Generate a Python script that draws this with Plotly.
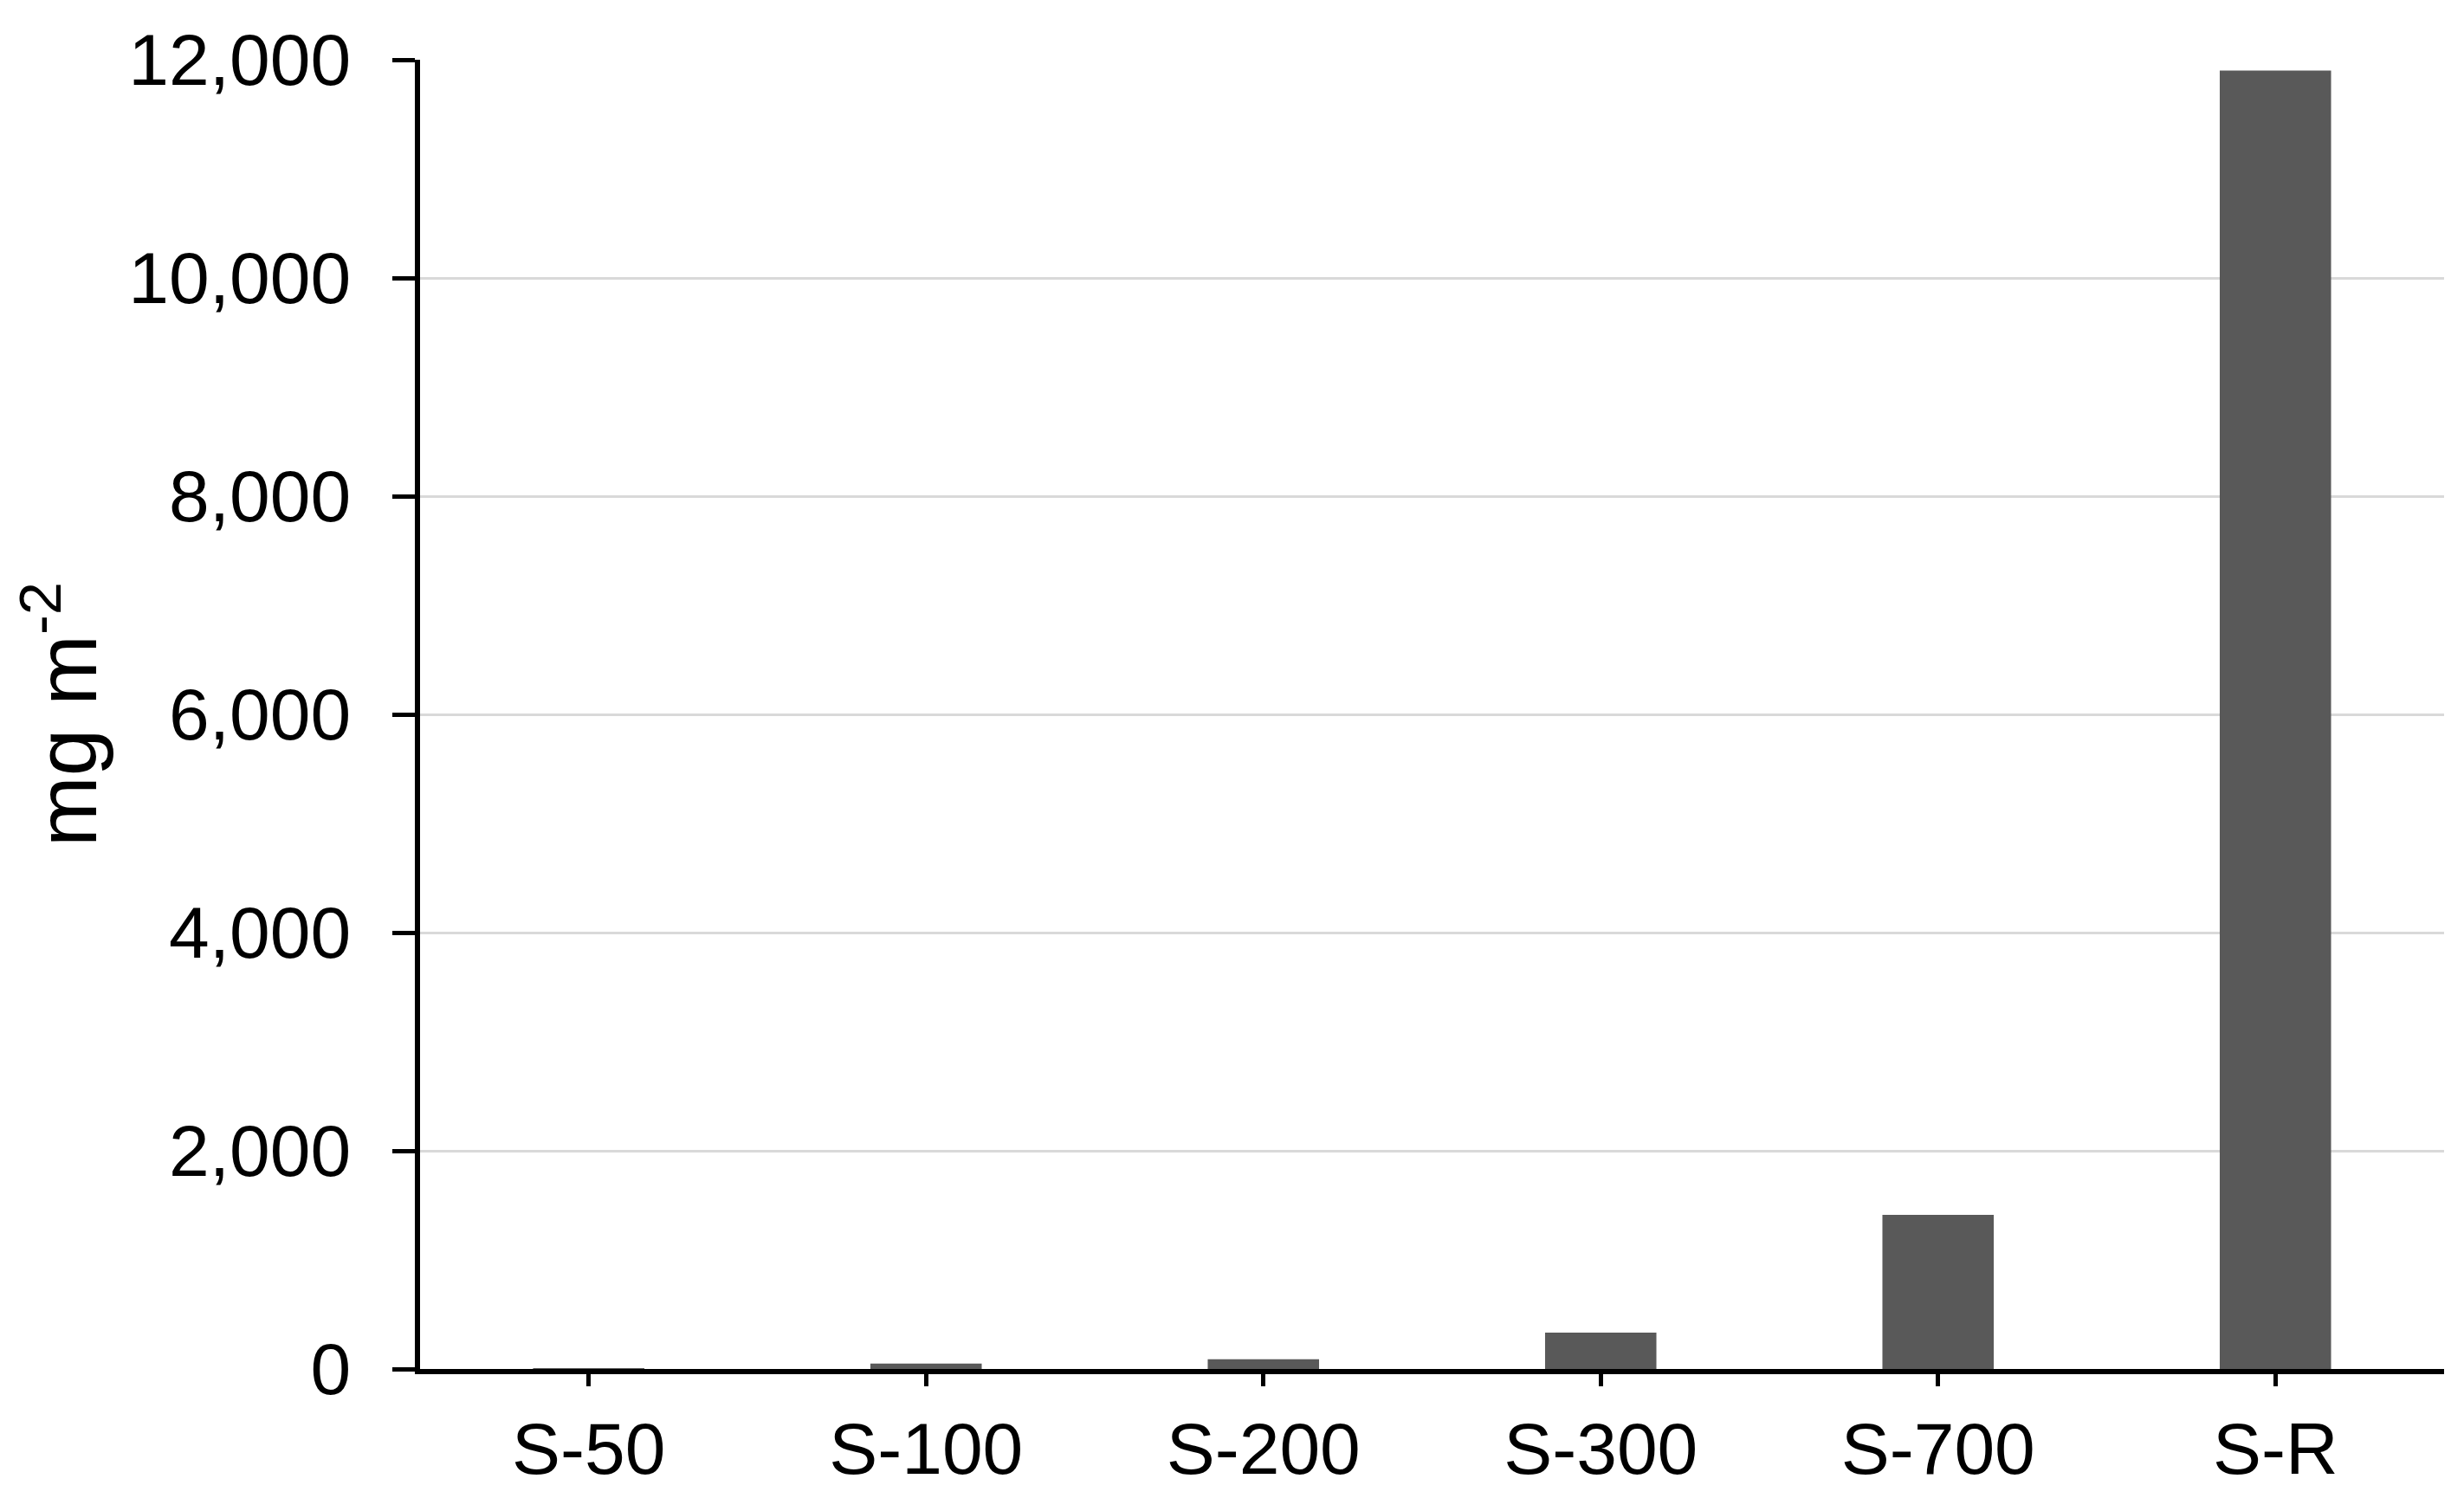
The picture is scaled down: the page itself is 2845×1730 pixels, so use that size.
import plotly.graph_objects as go

# sites and values (mg m-2)
sites = ["S-50", "S-100", "S-200", "S-300", "S-700", "S-R"]
values = [5, 50, 90, 333, 1413, 11900]

y_ticks = [0, 2000, 4000, 6000, 8000, 10000, 12000]

bars = go.Bar(
    x=sites,
    y=values,
    marker=dict(color="#595959", line=dict(width=0)),
    showlegend=False,
)

layout = go.Layout(
    width=2845,
    height=1730,
    margin=dict(l=477, r=31, t=61, b=157),
    paper_bgcolor="white",
    plot_bgcolor="white",
    bargap=0.67,
    font=dict(family="Liberation Sans, Arial, sans-serif", size=84, color="black"),
    xaxis=dict(
        showline=True,
        linecolor="black",
        linewidth=6,
        ticks="outside",
        ticklen=14,
        tickwidth=5,
        tickcolor="black",
        ticklabelstandoff=0,
        showgrid=False,
    ),
    yaxis=dict(
        range=[0, 12000],
        tickvals=y_ticks,
        tickformat=",d",
        showline=True,
        linecolor="black",
        linewidth=6,
        ticks="outside",
        ticklen=26,
        tickwidth=5,
        tickcolor="black",
        ticklabelstandoff=31,
        showgrid=True,
        gridcolor="#d9d9d9",
        gridwidth=3,
        zeroline=False,
        title=dict(text="mg m<sup>-2</sup>", font=dict(size=98), standoff=44),
    ),
)

fig = go.Figure(data=[bars], layout=layout)

# end tick at the right end of the category axis
fig.add_shape(
    type="line",
    xref="paper", x0=1, x1=1,
    yref="y", ysizemode="pixel", yanchor=0, y0=0, y1=-14,
    line=dict(color="black", width=5),
)

fig.write_html("out.html")
